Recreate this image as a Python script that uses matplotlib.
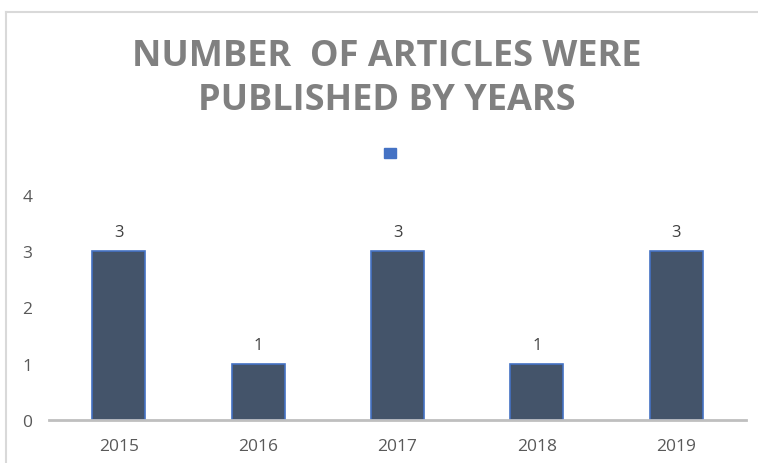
import matplotlib.pyplot as plt
from matplotlib.patches import Patch
from matplotlib.lines import Line2D

years = ['2015', '2016', '2017', '2018', '2019']
articles = [3, 1, 3, 1, 3]
y_ticks = [0, 1, 2, 3, 4]

W, H = 758, 464
fig = plt.figure(figsize=(W / 100, H / 100), dpi=100)
ax = fig.add_axes([49 / W, (H - 421) / H, (746 - 49) / W, (421 - 196) / H])

bars = ax.bar(range(len(years)), articles, width=0.38, color='#44546A', edgecolor='#4472C4', linewidth=1.2)

ax.set_xlim(-0.5, len(years) - 0.5)
ax.set_ylim(0, 4)
ax.set_yticks(y_ticks)
ax.set_xticks(range(len(years)))
ax.set_xticklabels(years)
for s in ['top', 'right', 'left']:
	ax.spines[s].set_visible(False)
ax.spines['bottom'].set_color('#BFBFBF')
ax.spines['bottom'].set_linewidth(2)
ax.tick_params(length=0, labelsize=12.5, labelcolor='#595959', pad=13)
ax.tick_params(axis='y', pad=12)
for lab in ax.get_xticklabels() + ax.get_yticklabels():
	lab.set_family('Open Sans')

# Werte ueber den Balken
for rect, v in zip(bars, articles):
	ax.annotate(str(v), xy=(rect.get_x() + rect.get_width() / 2, v), xytext=(0, 8),
	            textcoords='offset points', ha='center', va='bottom', fontsize=12,
	            color='#404040', family='Open Sans')

fig.text(0.51, (H - 79) / H, 'NUMBER  OF ARTICLES WERE\nPUBLISHED BY YEARS', ha='center', va='center',
         fontsize=26, fontweight='bold', color='#808080', family='Open Sans', linespacing=1.32)

leg = ax.legend(handles=[Patch(facecolor='#4472C4', edgecolor='#4472C4')], labels=[''],
                loc='center', bbox_to_anchor=(390 / W, (H - 155) / H), bbox_transform=fig.transFigure,
                frameon=False, handlelength=0.8, handleheight=0.8, handletextpad=0)

# Rahmen
fig.add_artist(Line2D([6 / W, 6 / W], [0, (H - 13) / H], color='#D9D9D9', lw=1.5, transform=fig.transFigure))
fig.add_artist(Line2D([6 / W, 1], [(H - 13) / H, (H - 13) / H], color='#D9D9D9', lw=1.5, transform=fig.transFigure))

fig.savefig('out.png', dpi=100)
